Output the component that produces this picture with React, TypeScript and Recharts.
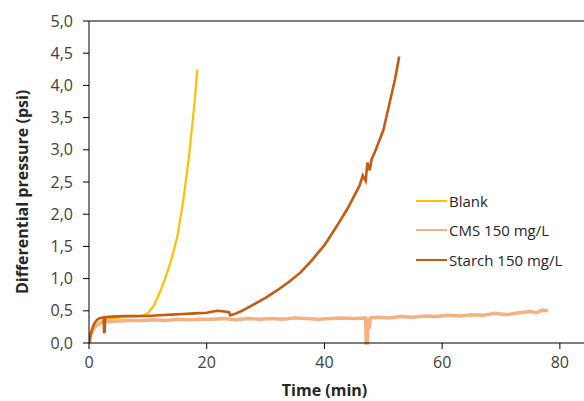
import { LineChart, Line, XAxis, YAxis, ReferenceLine } from 'recharts';

// time (min) and differential pressure (psi)
const blankTime = [0, 0.3, 0.7, 1, 1.5, 2, 3, 4, 6, 8, 9, 10, 11, 12, 13, 14, 15, 16, 17, 18, 18.4];
const blankPsi = [0, 0.12, 0.2, 0.25, 0.3, 0.33, 0.36, 0.38, 0.4, 0.41, 0.42, 0.46, 0.58, 0.78, 1.02, 1.3, 1.65, 2.2, 2.9, 3.8, 4.25];

const cmsTime = [0, 0.3, 0.7, 1, 1.5, 2, 3, 5, 7, 9, 11, 13, 15, 17, 19, 21, 23, 25, 27, 29, 31, 33, 35, 37, 39, 41, 43, 45, 46.8, 47.0, 47.1, 47.3, 47.4, 47.6, 47.8, 49, 51, 53, 55, 57, 59, 61, 63, 65, 67, 69, 71, 73, 75, 76, 77, 78];
const cmsPsi = [0, 0.12, 0.2, 0.25, 0.29, 0.31, 0.33, 0.34, 0.35, 0.35, 0.36, 0.35, 0.37, 0.36, 0.37, 0.37, 0.38, 0.36, 0.38, 0.37, 0.38, 0.37, 0.39, 0.38, 0.37, 0.38, 0.39, 0.38, 0.39, 0.39, 0.0, 0.0, 0.38, 0.22, 0.39, 0.4, 0.39, 0.41, 0.4, 0.42, 0.41, 0.43, 0.42, 0.44, 0.43, 0.46, 0.44, 0.47, 0.49, 0.47, 0.51, 0.5];

const starchTime = [0, 0.3, 0.7, 1, 1.5, 2, 2.5, 2.55, 2.65, 2.75, 4, 6, 8, 10, 12, 14, 16, 18, 20, 21, 22, 23, 23.8, 24, 25, 26, 28, 30, 32, 34, 36, 38, 40, 42, 44, 46, 46.5, 47, 47.3, 47.7, 48, 48.5, 50, 51, 52, 52.7];
const starchPsi = [0, 0.15, 0.26, 0.32, 0.37, 0.39, 0.4, 0.17, 0.17, 0.4, 0.41, 0.42, 0.42, 0.42, 0.43, 0.44, 0.45, 0.46, 0.47, 0.49, 0.5, 0.49, 0.48, 0.43, 0.46, 0.5, 0.6, 0.7, 0.82, 0.95, 1.1, 1.3, 1.52, 1.8, 2.1, 2.45, 2.6, 2.52, 2.8, 2.68, 2.85, 2.95, 3.3, 3.7, 4.1, 4.45];

const xTicks = [0, 20, 40, 60, 80];
const yTicks = [0, 0.5, 1, 1.5, 2, 2.5, 3, 3.5, 4, 4.5, 5];

const seriesNames = ['Blank', 'CMS 150 mg/L', 'Starch 150 mg/L'];
const seriesColors = ['#FFC000', '#F4B183', '#C55A11'];

const toPoints = (t: number[], p: number[]) => t.map((x, i) => ({ t: x, p: p[i] }));

const FONT = '"Open Sans", "Liberation Sans", sans-serif';

function LegendBox() {
  return (
    <div style={{ position: 'absolute', left: 416, top: 186, fontFamily: FONT, fontSize: 15, color: '#262626' }}>
      {seriesNames.map((name, i) => (
        <div key={name} style={{ display: 'flex', alignItems: 'center', height: 29.5, whiteSpace: 'nowrap' }}>
          <span style={{ display: 'inline-block', width: 31, height: 0, borderTop: `2.5px solid ${seriesColors[i]}`, marginRight: 2 }} />
          <span>{name}</span>
        </div>
      ))}
    </div>
  );
}

export default function App() {
  const series = [
    toPoints(blankTime, blankPsi),
    toPoints(cmsTime, cmsPsi),
    toPoints(starchTime, starchPsi),
  ];
  const widths = [2.2, 3.5, 2.6];
  const fmt = (v: number) => v.toFixed(1).replace('.', ',');

  return (
    <div style={{ position: 'absolute', left: 0, top: 0, width: 584, height: 401, background: '#fff' }}>
      <LineChart width={584} height={401} margin={{ top: 21, right: 0, bottom: 0, left: 0 }}>
        <XAxis
          type="number"
          dataKey="t"
          domain={[0, 84.1]}
          ticks={xTicks}
          allowDataOverflow
          height={58}
          stroke="#000"
          tick={{ fill: '#404040', fontSize: 16, fontFamily: FONT }}
          tickMargin={8}
          label={{ value: 'Time (min)', position: 'insideBottom', offset: 0, dy: -5, dx: -12, style: { fontWeight: 700, fontSize: 16, fill: '#262626', fontFamily: FONT } }}
        />
        <YAxis
          type="number"
          dataKey="p"
          domain={[0, 5]}
          ticks={yTicks}
          width={89}
          stroke="#000"
          tickFormatter={fmt}
          tick={{ fill: '#404040', fontSize: 16, fontFamily: FONT }}
          tickMargin={10}
          label={{ value: 'Differential pressure (psi)', angle: -90, position: 'insideLeft', offset: 0, dx: 22, dy: 112, style: { fontWeight: 700, fontSize: 16, fill: '#262626', fontFamily: FONT } }}
        />
        <ReferenceLine y={5} stroke="#000" />
        {series.map((data, i) => (
          <Line
            key={seriesNames[i]}
            data={data}
            dataKey="p"
            name={seriesNames[i]}
            type="linear"
            stroke={seriesColors[i]}
            strokeWidth={widths[i]}
            dot={false}
            isAnimationActive={false}
          />
        ))}
      </LineChart>
      <LegendBox />
    </div>
  );
}
